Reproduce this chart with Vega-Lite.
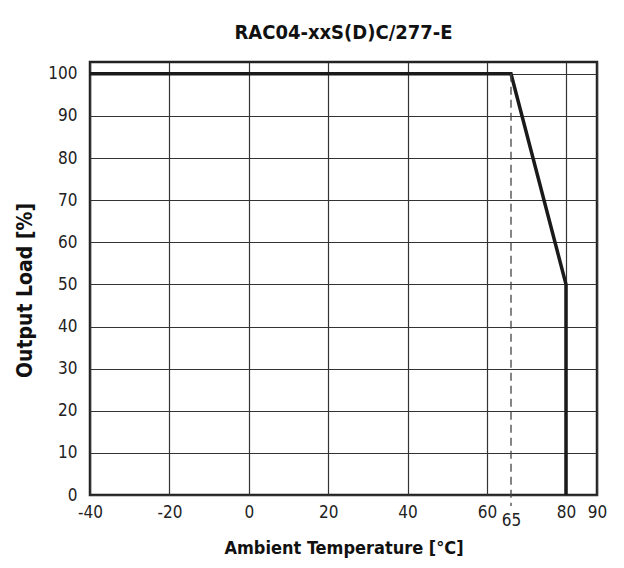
{
  "$schema": "https://vega.github.io/schema/vega-lite/v6.json",
  "autosize": "none",
  "width": 507,
  "height": 433,
  "padding": {"left": 90, "top": 62, "right": 27, "bottom": 73},
  "background": "white",
  "title": {"text": "RAC04-xxS(D)C/277-E", "font": "DejaVu Sans Condensed, Roboto, sans-serif", "fontSize": 20, "fontWeight": "bold", "color": "#111", "offset": 19},
  "config": {
    "view": {"stroke": "#222", "strokeWidth": 2.5},
    "axis": {"labelFont": "DejaVu Sans Condensed, Roboto, sans-serif", "labelFontSize": 17, "labelColor": "#222", "titleFont": "DejaVu Sans Condensed, Roboto, sans-serif", "titleFontSize": 18, "titleFontWeight": "bold", "titleColor": "#111", "ticks": false, "domain": false, "gridColor": "#333", "gridWidth": 1.2, "gridOpacity": 1}
  },
  "layer": [
    {
      "data": {"values": [
        {"temp": -40, "load": 100},
        {"temp": 65, "load": 100},
        {"temp": 80, "load": 50},
        {"temp": 80, "load": 0}
      ]},
      "mark": {"type": "line", "color": "#1a1a1a", "strokeWidth": 3.5, "clip": true},
      "encoding": {
        "x": {"field": "temp", "type": "quantitative", "scale": {"domain": [-40, 60, 65, 80, 90], "range": [0, 397, 421, 476, 507], "nice": false, "zero": false},
          "axis": {"title": "Ambient Temperature [°C]", "values": [-40, -20, 0, 20, 40, 60, 65, 80, 90], "labelExpr": "toString(datum.value)", "labelPadding": {"condition": {"test": "datum.value == 65", "value": 17}, "value": 9}, "gridOpacity": {"condition": {"test": "datum.value == 65", "value": 0}, "value": 1}, "labelFlush": false, "labelOverlap": false, "titleY": 53, "titleBaseline": "middle"}},
        "y": {"field": "load", "type": "quantitative", "scale": {"domain": [0, 102.8], "nice": false},
          "axis": {"title": "Output Load [%]", "titleFontSize": 21, "values": [0, 10, 20, 30, 40, 50, 60, 70, 80, 90, 100], "labelPadding": 13, "labelFlush": false, "labelOverlap": false, "titleX": -65, "titleY": 228, "titleAngle": -90, "titleAlign": "center", "titleBaseline": "middle"}},
        "order": {"field": "temp"}
      }
    },
    {
      "data": {"values": [{"temp": 65, "top": 100, "bottom": -2.6}]},
      "mark": {"type": "rule", "color": "#444", "strokeWidth": 1.3, "strokeDash": [8, 5], "clip": false},
      "encoding": {
        "x": {"field": "temp", "type": "quantitative"},
        "y": {"field": "top", "type": "quantitative"},
        "y2": {"field": "bottom"}
      }
    }
  ]
}
